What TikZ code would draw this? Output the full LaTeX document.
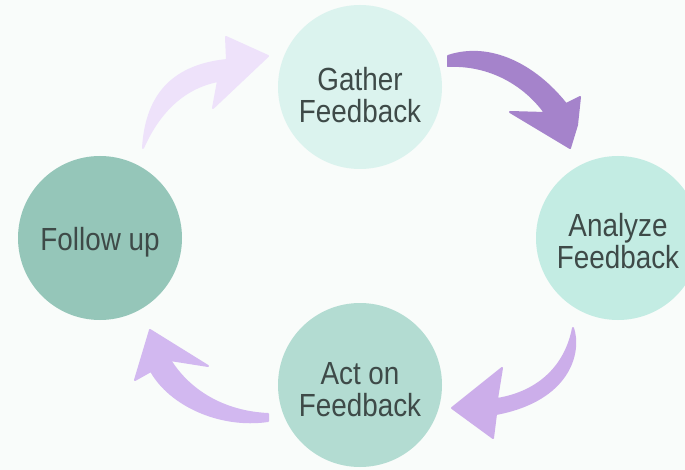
\documentclass[tikz,border=0pt]{standalone}
\usepackage{fontspec}
\setmainfont{Liberation Sans}[FakeStretch=0.87]
\definecolor{bgcol}{HTML}{F9FCFA}
\definecolor{txtcol}{HTML}{3E4A48}
\definecolor{cgather}{HTML}{DBF3EE}
\definecolor{canalyze}{HTML}{C3ECE3}
\definecolor{cact}{HTML}{B3DCD2}
\definecolor{cfollow}{HTML}{95C6B9}
\definecolor{aone}{HTML}{EEE2FA}
\definecolor{atwo}{HTML}{A583CB}
\definecolor{athree}{HTML}{CCAEEA}
\definecolor{afour}{HTML}{D2B8F0}
\begin{document}
\begin{tikzpicture}[x=1pt,y=-1pt,
  stage/.style={circle,inner sep=0pt,minimum size=164pt},
  stagetext/.style={inner sep=0pt,text=txtcol,align=center,
    font=\fontsize{32}{32}\selectfont},
  bigarrow/.style={line join=round,line width=2pt}]
\useasboundingbox (0,0) rectangle (685,470);
\clip (0,0) rectangle (685,470);
\fill[bgcol] (0,0) rectangle (685,470);

\node[stage,fill=cgather]  (gather)  at (360,87)  {};
\node[stage,fill=canalyze] (analyze) at (618,238) {};
\node[stage,fill=cact]     (act)     at (360,385) {};
\node[stage,fill=cfollow]  (follow)  at (100,238) {};

\node[stagetext] (gathertxt)  at (360,95)  {Gather\\Feedback};
\node[stagetext] (analyzetxt) at (618,241) {Analyze\\Feedback};
\node[stagetext] (acttxt)     at (360,390) {Act on\\Feedback};
\node[stagetext,text depth=0pt] (followtxt) at (100,239) {Follow up};

% arrow: follow up -> gather
\filldraw[bigarrow,aone] (143,148)
  .. controls (146,100) and (168,66) .. (227,60)
  -- (226,37) -- (268,56) -- (213,108) -- (218,81)
  .. controls (182,88) and (158,114) .. (143,148) -- cycle;

% arrow: gather -> analyze
\filldraw[bigarrow,atwo] (448,56)
  .. controls (490,42) and (535,65) .. (566,104)
  -- (580,97) -- (577,125) -- (570,148) -- (510,112) -- (545,113)
  .. controls (525,85) and (490,64) .. (448,66) -- cycle;

% arrow: analyze -> act
\filldraw[bigarrow,athree] (573,328)
  .. controls (581,352) and (570,400) .. (496,414)
  -- (493,438) -- (452,408) -- (502,368) -- (497,399)
  .. controls (540,392) and (566,365) .. (573,328) -- cycle;

% arrow: act -> follow up
\filldraw[bigarrow,afour] (268,414)
  .. controls (225,412) and (190,392) .. (170,360)
  -- (208,366) -- (150,330) -- (135,380) -- (151,371)
  .. controls (170,405) and (220,428) .. (268,421) -- cycle;
\end{tikzpicture}
\end{document}
